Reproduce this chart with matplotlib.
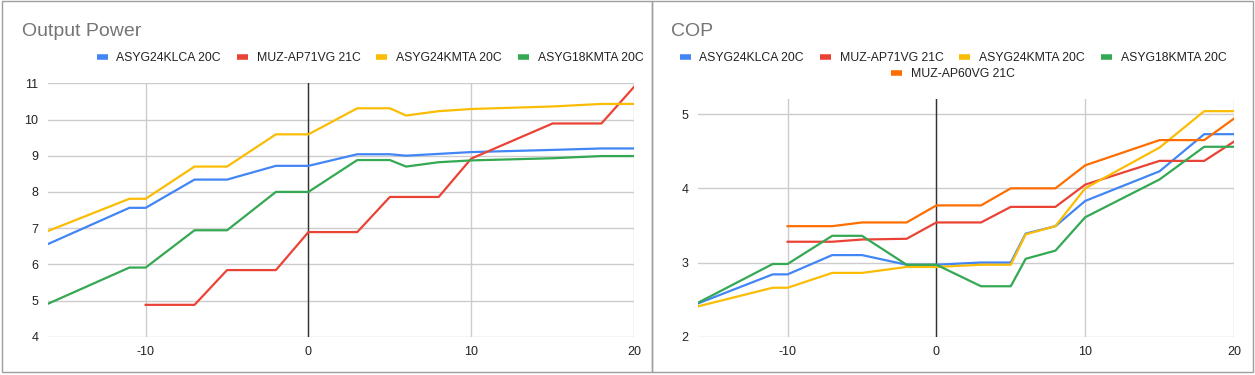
import matplotlib
matplotlib.use("Agg")
import matplotlib.pyplot as plt
from matplotlib.lines import Line2D
from matplotlib.patches import Rectangle

plt.rcParams["font.family"] = ["Liberation Sans", "DejaVu Sans"]
plt.rcParams["axes.unicode_minus"] = False

# temperatures (C)
temps = [-16, -11, -10, -7, -5, -2, 0, 3, 5, 6, 8, 10, 15, 18, 20]
temps_mits = [-10, -7, -5, -2, 0, 3, 5, 8, 10, 15, 18, 20]

# Output Power (kW)
pow_klca = [6.56, 7.56, 7.56, 8.34, 8.34, 8.72, 8.72, 9.04, 9.04, 9.0, 9.05, 9.10, 9.16, 9.2, 9.2]
pow_ap71 = [4.88, 4.88, 5.84, 5.84, 6.89, 6.89, 7.86, 7.86, 8.92, 9.89, 9.89, 10.9]
pow_24kmta = [6.92, 7.81, 7.81, 8.70, 8.70, 9.59, 9.59, 10.31, 10.31, 10.11, 10.23, 10.29, 10.36, 10.43, 10.43]
pow_18kmta = [4.91, 5.91, 5.91, 6.94, 6.94, 8.0, 8.0, 8.88, 8.88, 8.70, 8.82, 8.87, 8.93, 8.99, 8.99]

# COP
cop_klca = [2.45, 2.84, 2.84, 3.10, 3.10, 2.97, 2.97, 3.0, 3.0, 3.39, 3.49, 3.83, 4.23, 4.73, 4.73]
cop_ap71 = [3.28, 3.28, 3.31, 3.32, 3.54, 3.54, 3.75, 3.75, 4.05, 4.37, 4.37, 4.63]
cop_24kmta = [2.41, 2.66, 2.66, 2.86, 2.86, 2.94, 2.94, 2.97, 2.97, 3.38, 3.49, 4.0, 4.55, 5.04, 5.04]
cop_18kmta = [2.46, 2.98, 2.98, 3.36, 3.36, 2.97, 2.97, 2.68, 2.68, 3.05, 3.16, 3.61, 4.12, 4.56, 4.56]
cop_ap60 = [3.49, 3.49, 3.54, 3.54, 3.77, 3.77, 4.0, 4.0, 4.31, 4.65, 4.65, 4.94]

names = ["ASYG24KLCA 20C", "MUZ-AP71VG 21C", "ASYG24KMTA 20C", "ASYG18KMTA 20C", "MUZ-AP60VG 21C"]
colors = ["#4285F4", "#EA4335", "#FBBC04", "#34A853", "#FF6D01"]

W, H = 1255, 375
fig = plt.figure(figsize=(W / 100, H / 100), dpi=100)
fig.patch.set_facecolor("white")

# chart panel borders
for x0, x1 in [(2, 652), (652, 1253)]:
    fig.patches.append(Rectangle((x0 / W, 1 - 372 / H), (x1 - x0) / W, 371 / H,
                                 transform=fig.transFigure, fill=False,
                                 edgecolor="#9e9e9e", linewidth=1))

ax1 = fig.add_axes([48 / W, 1 - 336.7 / H, (634 - 48) / W, (336.7 - 83.3) / H])
ax2 = fig.add_axes([698.3 / W, 1 - 336.7 / H, (1234 - 698.3) / W, (336.7 - 99.3) / H])


def style(ax, ylim, yticks):
    ax.set_xlim(-16, 20)
    ax.set_ylim(*ylim)
    ax.set_xticks([-10, 0, 10, 20])
    ax.set_yticks(yticks)
    ax.grid(True, color="#cccccc", linewidth=1)
    ax.set_axisbelow(True)
    for s in ax.spines.values():
        s.set_visible(False)
    ax.tick_params(length=0, labelsize=9, labelcolor="#222222", pad=7)
    ax.axvline(0, color="#333333", linewidth=1, zorder=1.5)


style(ax1, (4, 11), range(4, 12))
style(ax2, (2, 5.2), [2, 3, 4, 5])

lw = 1.6
ax1.plot(temps, pow_klca, color=colors[0], lw=lw)
ax1.plot(temps_mits, pow_ap71, color=colors[1], lw=lw)
ax1.plot(temps, pow_24kmta, color=colors[2], lw=lw)
ax1.plot(temps, pow_18kmta, color=colors[3], lw=lw)

ax2.plot(temps, cop_klca, color=colors[0], lw=lw)
ax2.plot(temps_mits, cop_ap71, color=colors[1], lw=lw)
ax2.plot(temps, cop_24kmta, color=colors[2], lw=lw)
ax2.plot(temps, cop_18kmta, color=colors[3], lw=lw)
ax2.plot(temps_mits, cop_ap60, color=colors[4], lw=lw)

fig.text(22 / W, 1 - 31 / H, "Output Power", fontsize=14, color="#757575", va="center", ha="left")
fig.text(671 / W, 1 - 31 / H, "COP", fontsize=14, color="#757575", va="center", ha="left")


def handles(n):
    return [Line2D([], [], color=c, lw=4, solid_capstyle="butt") for c in colors[:n]]


leg_kw = dict(frameon=False, fontsize=8.8, handlelength=0.9, handletextpad=0.72,
              columnspacing=1.3, labelcolor="#222222")
fig.legend(handles(4), names[:4], ncol=4, loc="center", bbox_to_anchor=(370 / W, 1 - 58 / H), **leg_kw)
fig.legend(handles(4), names[:4], ncol=4, loc="center", bbox_to_anchor=(953 / W, 1 - 58 / H), **leg_kw)
fig.legend(handles(5)[4:], names[4:], ncol=1, loc="center", bbox_to_anchor=(953 / W, 1 - 74 / H), **leg_kw)

fig.savefig("out.png", dpi=100)
